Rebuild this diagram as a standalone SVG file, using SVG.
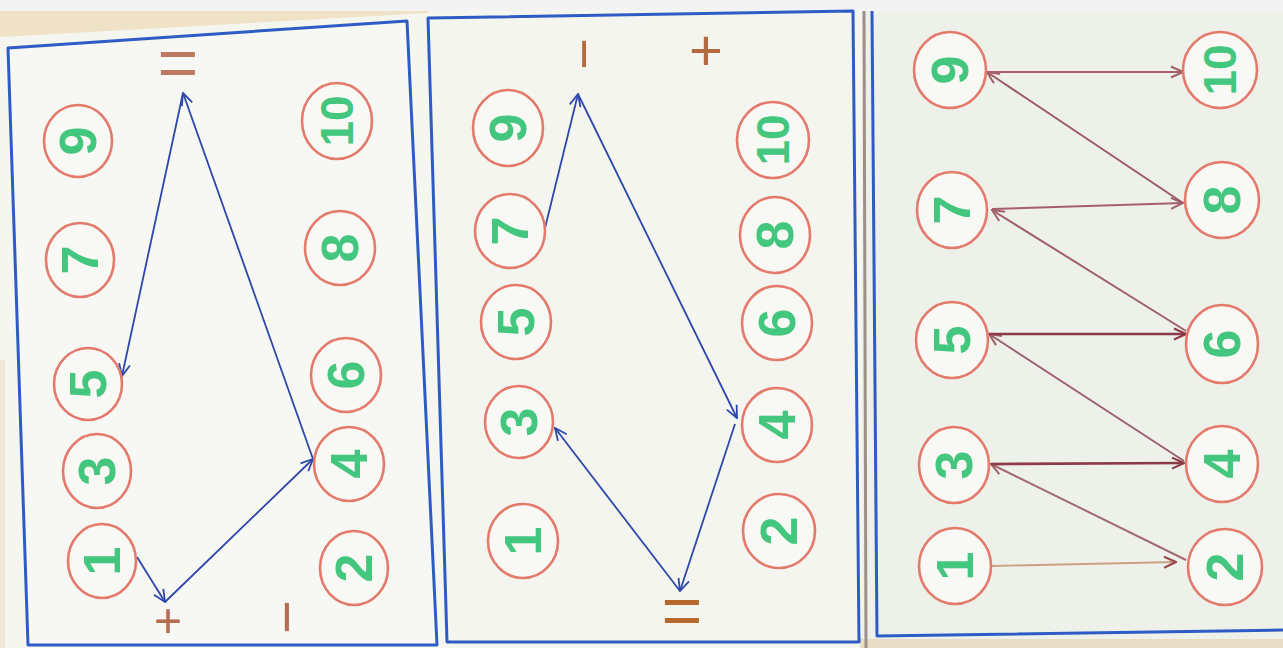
<svg xmlns="http://www.w3.org/2000/svg" width="1283" height="648" viewBox="0 0 1283 648">
<style>
.card{stroke:#2f5cc4;stroke-width:3;stroke-linejoin:round}
.nd ellipse{fill:#f8f8f4;stroke:#e47a6c;stroke-width:2.6}
.nd text{font-family:"Liberation Sans",Arial,sans-serif;font-weight:700;font-size:52px;fill:#43c67d;text-anchor:middle;dominant-baseline:central}
.sg{font-family:"Liberation Sans",Arial,sans-serif;text-anchor:middle;dominant-baseline:central}
.bl{fill:none;stroke:#2d48ab;stroke-width:1.8;marker-end:url(#mb)}
.rd{fill:none;stroke-width:2;}
</style>
<defs>
<marker id="mb" viewBox="0 0 14 14" refX="13" refY="7" markerWidth="14" markerHeight="14" markerUnits="userSpaceOnUse" orient="auto"><path d="M1,1.5 L13,7 L1,12.5" fill="none" stroke="#2d48ab" stroke-width="1.8"/></marker>
<marker id="mm" viewBox="0 0 14 14" refX="13" refY="7" markerWidth="14" markerHeight="14" markerUnits="userSpaceOnUse" orient="auto"><path d="M1,1.5 L13,7 L1,12.5" fill="none" stroke="#8c3a46" stroke-width="2"/></marker>
<marker id="mr" viewBox="0 0 14 14" refX="13" refY="7" markerWidth="14" markerHeight="14" markerUnits="userSpaceOnUse" orient="auto"><path d="M1,1.5 L13,7 L1,12.5" fill="none" stroke="#a4606a" stroke-width="2"/></marker>
<marker id="mt" viewBox="0 0 14 14" refX="13" refY="7" markerWidth="14" markerHeight="14" markerUnits="userSpaceOnUse" orient="auto"><path d="M1,1.5 L13,7 L1,12.5" fill="none" stroke="#9a4a4a" stroke-width="2"/></marker>
</defs>

<!-- background -->
<rect x="0" y="0" width="1283" height="648" fill="#f6f6f1"/>
<rect x="0" y="0" width="1283" height="11" fill="#f3f3f3"/>
<polygon points="0,11 428,11 428,13 0,37" fill="#efe2c6"/>
<rect x="0" y="360" width="5" height="288" fill="#f1e9d8"/>
<rect x="860" y="638" width="423" height="10" fill="#e8dcc4"/>

<!-- cards -->
<g id="card2">
<polygon class="card" points="428,18 853,11 859,642 447,642" fill="#f5f5f0"/>
</g>
<g id="card1">
<polygon class="card" points="8,48 407,21 437,645 28,645" fill="#f7f7f3"/>
</g>
<g id="card3">
<rect x="862" y="11" width="421" height="628" fill="#eef0ea"/>
<line x1="864" y1="11" x2="866" y2="648" stroke="#9c9088" stroke-width="3"/>
<polyline class="card" points="872,11 877,636 1283,630" fill="none"/>
</g>

<!-- signs -->
<g id="signs">
<text class="sg" x="178" y="63" font-size="70" fill="#bd7a62">=</text>
<text class="sg" x="168" y="620" font-size="48" fill="#b56d52">+</text>
<text class="sg" transform="translate(285,617) rotate(-90)" font-size="58" fill="#b56d52">−</text>
<text class="sg" transform="translate(583,54) rotate(-90)" font-size="54" fill="#b56a40">−</text>
<text class="sg" x="706" y="49" font-size="58" fill="#b56a40">+</text>
<text class="sg" x="682" y="611" font-size="70" fill="#b8672c">=</text>
</g>

<!-- connectors -->
<g id="connectors">
<path class="bl" d="M137,557 L165,602"/>
<path class="bl" d="M165,602 L313,459"/>
<path class="bl" d="M313,459 L183,93"/>
<path class="bl" d="M183,93 L122,376"/>
<path class="bl" d="M545,228 L578,94"/>
<path class="bl" d="M578,94 L737,418"/>
<path class="bl" d="M735,424 L680,591"/>
<path class="bl" d="M680,591 L555,428"/>
<path class="rd" stroke="#c9a084" d="M992,566 L1176,562" marker-end="url(#mt)" style="stroke-width:1.8"/>
<path class="rd" stroke="#a06a70" d="M1186,560 L991,464" marker-end="url(#mr)"/>
<path class="rd" stroke="#8c3a46" d="M991,464 L1184,463" marker-end="url(#mm)" style="stroke-width:2.6"/>
<path class="rd" stroke="#9a6070" d="M1184,461 L989,334" marker-end="url(#mr)"/>
<path class="rd" stroke="#8c3a46" d="M989,334 L1186,334" marker-end="url(#mm)" style="stroke-width:2.3"/>
<path class="rd" stroke="#a0606a" d="M1186,331 L992,210" marker-end="url(#mr)"/>
<path class="rd" stroke="#a4606a" d="M992,209 L1183,203" marker-end="url(#mr)"/>
<path class="rd" stroke="#9a5a66" d="M1183,203 L987,72" marker-end="url(#mr)"/>
<path class="rd" stroke="#a4606a" d="M987,72 L1183,72" marker-end="url(#mr)"/>
</g>

<!-- panel 1 nodes -->
<g id="p1-n9" class="nd"><ellipse cx="78" cy="141" rx="34" ry="36"/><text transform="translate(78,141) rotate(-90)">9</text></g>
<g id="p1-n7" class="nd"><ellipse cx="80" cy="260" rx="34" ry="37"/><text transform="translate(80,260) rotate(-90)">7</text></g>
<g id="p1-n5" class="nd"><ellipse cx="88" cy="384" rx="34" ry="36"/><text transform="translate(88,384) rotate(-90)">5</text></g>
<g id="p1-n3" class="nd"><ellipse cx="97" cy="471" rx="34" ry="37"/><text transform="translate(97,471) rotate(-90)">3</text></g>
<g id="p1-n1" class="nd"><ellipse cx="102" cy="561" rx="34" ry="37"/><text transform="translate(102,561) rotate(-90)">1</text></g>
<g id="p1-n10" class="nd"><ellipse cx="337" cy="121" rx="35" ry="38"/><text transform="translate(337,121) rotate(-90)" style="font-size:46px">10</text></g>
<g id="p1-n8" class="nd"><ellipse cx="340" cy="248" rx="35" ry="37"/><text transform="translate(340,248) rotate(-90)">8</text></g>
<g id="p1-n6" class="nd"><ellipse cx="346" cy="375" rx="35" ry="37"/><text transform="translate(346,375) rotate(-90)">6</text></g>
<g id="p1-n4" class="nd"><ellipse cx="349" cy="464" rx="35" ry="37"/><text transform="translate(349,464) rotate(-90)">4</text></g>
<g id="p1-n2" class="nd"><ellipse cx="354" cy="568" rx="34" ry="37"/><text transform="translate(354,568) rotate(-90)">2</text></g>

<!-- panel 2 nodes -->
<g id="p2-n9" class="nd"><ellipse cx="508" cy="128" rx="35" ry="38"/><text transform="translate(508,128) rotate(-90)">9</text></g>
<g id="p2-n7" class="nd"><ellipse cx="510" cy="231" rx="35" ry="37"/><text transform="translate(510,231) rotate(-90)">7</text></g>
<g id="p2-n5" class="nd"><ellipse cx="516" cy="322" rx="35" ry="37"/><text transform="translate(516,322) rotate(-90)">5</text></g>
<g id="p2-n3" class="nd"><ellipse cx="519" cy="422" rx="34" ry="36"/><text transform="translate(519,422) rotate(-90)">3</text></g>
<g id="p2-n1" class="nd"><ellipse cx="523" cy="541" rx="35" ry="37"/><text transform="translate(523,541) rotate(-90)">1</text></g>
<g id="p2-n10" class="nd"><ellipse cx="773" cy="140" rx="36" ry="38"/><text transform="translate(773,140) rotate(-90)" style="font-size:46px">10</text></g>
<g id="p2-n8" class="nd"><ellipse cx="775" cy="235" rx="35" ry="38"/><text transform="translate(775,235) rotate(-90)">8</text></g>
<g id="p2-n6" class="nd"><ellipse cx="777" cy="323" rx="35" ry="37"/><text transform="translate(777,323) rotate(-90)">6</text></g>
<g id="p2-n4" class="nd"><ellipse cx="777" cy="425" rx="35" ry="37"/><text transform="translate(777,425) rotate(-90)">4</text></g>
<g id="p2-n2" class="nd"><ellipse cx="779" cy="531" rx="36" ry="37"/><text transform="translate(779,531) rotate(-90)">2</text></g>

<!-- panel 3 nodes -->
<g id="p3-n9" class="nd"><ellipse cx="950" cy="70" rx="36" ry="38"/><text transform="translate(950,70) rotate(-90)">9</text></g>
<g id="p3-n7" class="nd"><ellipse cx="952" cy="210" rx="35" ry="38"/><text transform="translate(952,210) rotate(-90)">7</text></g>
<g id="p3-n5" class="nd"><ellipse cx="952" cy="340" rx="36" ry="38"/><text transform="translate(952,340) rotate(-90)">5</text></g>
<g id="p3-n3" class="nd"><ellipse cx="954" cy="465" rx="35" ry="38"/><text transform="translate(954,465) rotate(-90)">3</text></g>
<g id="p3-n1" class="nd"><ellipse cx="955" cy="566" rx="36" ry="38"/><text transform="translate(955,566) rotate(-90)">1</text></g>
<g id="p3-n10" class="nd"><ellipse cx="1220" cy="70" rx="37" ry="38"/><text transform="translate(1220,70) rotate(-90)" style="font-size:46px">10</text></g>
<g id="p3-n8" class="nd"><ellipse cx="1222" cy="200" rx="37" ry="38"/><text transform="translate(1222,200) rotate(-90)">8</text></g>
<g id="p3-n6" class="nd"><ellipse cx="1222" cy="344" rx="36" ry="39"/><text transform="translate(1222,344) rotate(-90)">6</text></g>
<g id="p3-n4" class="nd"><ellipse cx="1222" cy="464" rx="36" ry="38"/><text transform="translate(1222,464) rotate(-90)">4</text></g>
<g id="p3-n2" class="nd"><ellipse cx="1225" cy="567" rx="37" ry="38"/><text transform="translate(1225,567) rotate(-90)">2</text></g>
</svg>
